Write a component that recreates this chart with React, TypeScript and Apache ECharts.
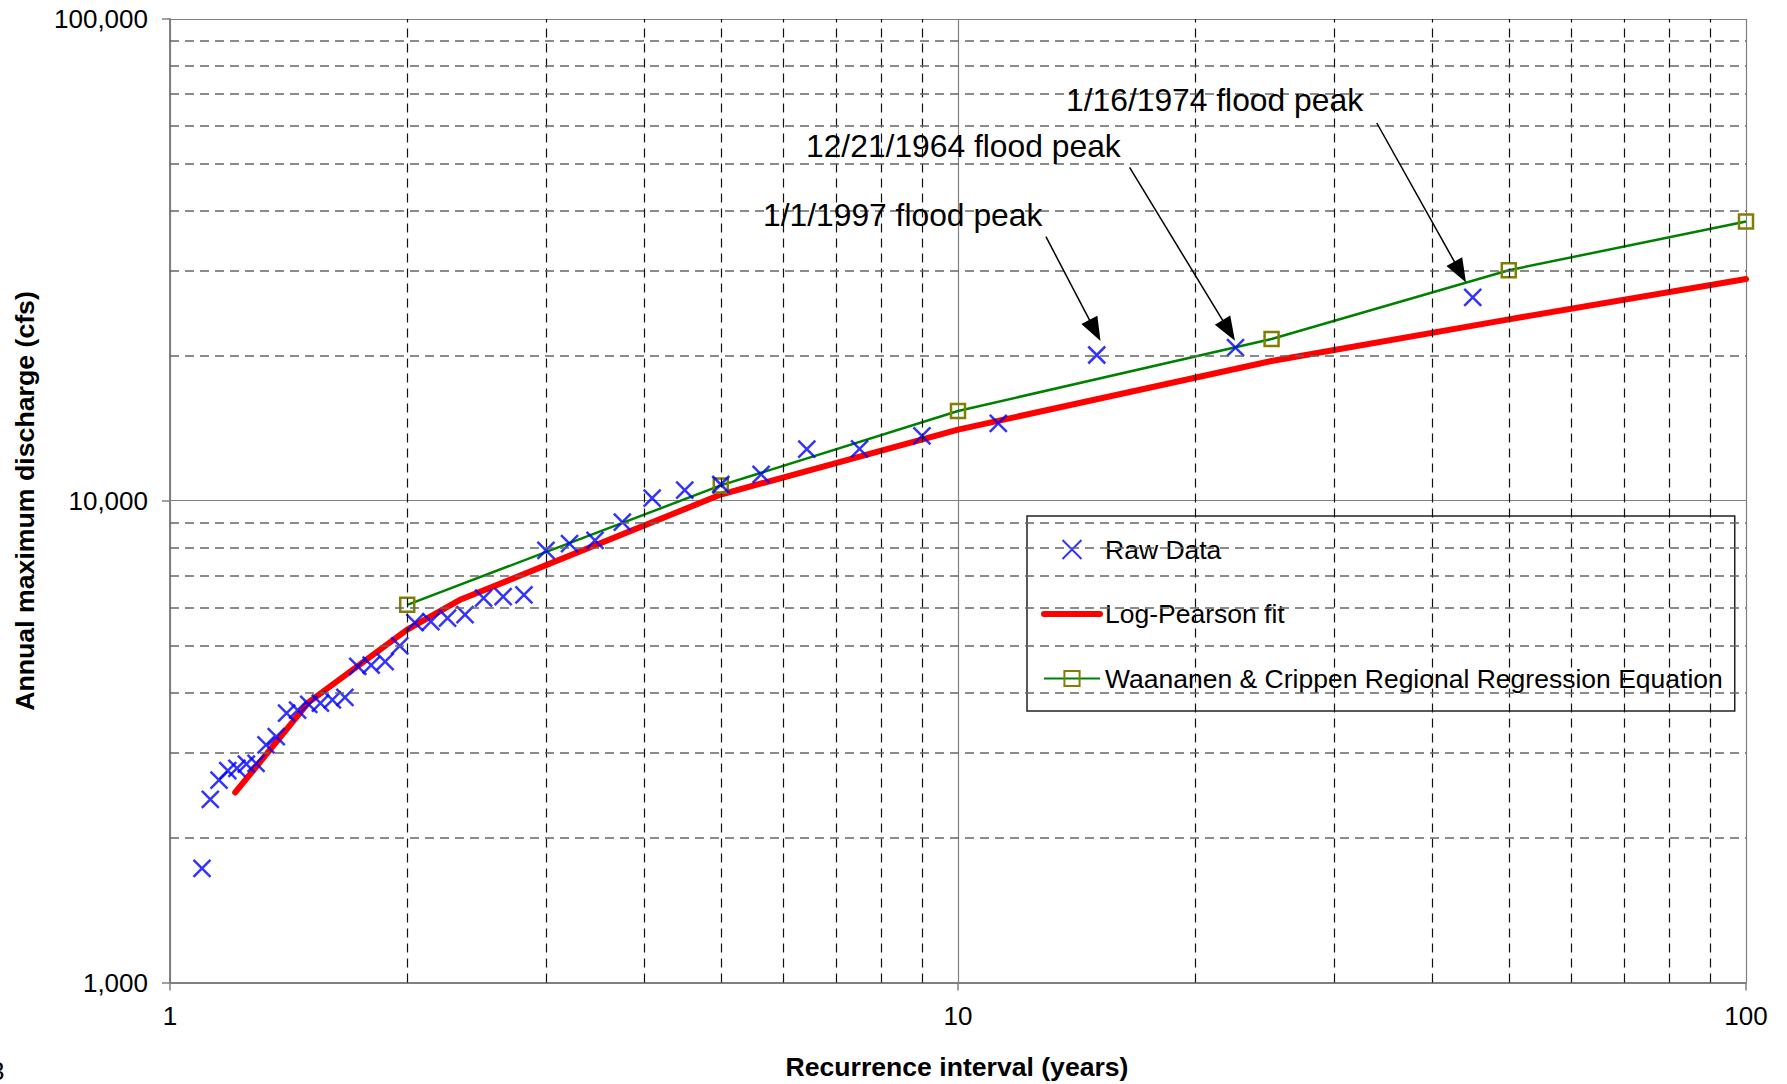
import React, { useEffect, useRef } from "react";
import * as echarts from "echarts";

const FONT = "'Liberation Sans', Arial, Helvetica, sans-serif";

// Raw annual peaks: recurrence interval (years) and discharge (cfs)
const rawInterval = [
  1.098, 1.125, 1.154, 1.184, 1.216, 1.25, 1.286, 1.324, 1.364, 1.406, 1.452,
  1.5, 1.552, 1.607, 1.667, 1.731, 1.8, 1.875, 1.957, 2.045, 2.143, 2.25,
  2.368, 2.5, 2.647, 2.813, 3.0, 3.214, 3.462, 3.75, 4.091, 4.5, 5.0, 5.625,
  6.429, 7.5, 9.0, 11.25, 15.0, 22.5, 45.0,
];
const rawDischarge = [
  1726, 2399, 2631, 2753, 2784, 2840, 2850, 3112, 3237, 3622, 3678, 3780,
  3800, 3859, 3908, 4530, 4560, 4634, 5000, 5585, 5613, 5706, 5805, 6280,
  6327, 6378, 7891, 8148, 8278, 9027, 10122, 10521, 10808, 11343, 12800,
  12820, 13630, 14480, 20070, 20780, 26440,
];

// Log-Pearson fit
const lpInterval = [1.21, 1.5, 2, 2.33, 5, 10, 25, 50, 100];
const lpDischarge = [2480, 3820, 5400, 6220, 10300, 14050, 19500, 23800, 28860];

// Waananen & Crippen regional regression
const wcInterval = [2, 5, 10, 25, 50, 100];
const wcDischarge = [6080, 10760, 15360, 21670, 30100, 38000];

// Minor grid values
const minorX = [2, 3, 4, 5, 6, 7, 8, 9, 20, 30, 40, 50, 60, 70, 80, 90];
const minorY = [
  2000, 3000, 4000, 5000, 6000, 7000, 8000, 9000, 20000, 30000, 40000, 50000,
  60000, 70000, 80000, 90000,
];

// Annotations (data coordinates of arrow start and arrow head)
const peakLabels = ["1/1/1997 flood peak", "12/21/1964 flood peak", "1/16/1974 flood peak"];
const arrowFrom = [
  [12.93, 35330],
  [16.51, 49230],
  [34.0, 60830],
];
const arrowTo = [
  [14.92, 22570],
  [22.06, 22570],
  [43.38, 29840],
];

const seriesNames = [
  "Raw Data",
  "Log-Pearson fit",
  "Waananen & Crippen Regional Regression Equation",
];

export default function App() {
  const ref = useRef<HTMLDivElement>(null);

  useEffect(() => {
    if (!ref.current) return;
    const chart = echarts.init(ref.current, undefined, { renderer: "svg" });

    const labelPos = [
      [763, 215],
      [806, 146],
      [1066, 100],
    ];

    const option: any = {
      animation: false,
      backgroundColor: "#ffffff",
      grid: { left: 170, right: 41, top: 19, bottom: 101.5, show: false },
      xAxis: {
        type: "log",
        logBase: 10,
        min: 1,
        max: 100,
        axisLine: { show: true, onZero: false, lineStyle: { color: "#808080", width: 2 } },
        axisTick: { show: true, length: 8, lineStyle: { color: "#808080", width: 1.5 } },
        axisLabel: { fontSize: 26, fontFamily: FONT, color: "#000", margin: 20 },
        splitLine: { show: true, lineStyle: { color: "#808080", width: 1.2 } },
      },
      yAxis: {
        type: "log",
        logBase: 10,
        min: 1000,
        max: 100000,
        axisLine: { show: true, onZero: false, lineStyle: { color: "#808080", width: 2 } },
        axisTick: { show: true, length: 8, lineStyle: { color: "#808080", width: 1.5 } },
        axisLabel: {
          fontSize: 26,
          fontFamily: FONT,
          color: "#000",
          margin: 22,
          formatter: (v: number) => Math.round(v).toLocaleString("en-US"),
        },
        splitLine: { show: true, lineStyle: { color: "#808080", width: 1.2 } },
      },
      legend: {
        show: true,
        orient: "vertical",
        left: 1027,
        top: 516,
        itemWidth: 56,
        itemHeight: 19,
        itemGap: 37.5,
        padding: [20, 12, 19, 14],
        backgroundColor: "#ffffff",
        borderColor: "#222",
        borderWidth: 1.5,
        borderRadius: 0,
        textStyle: { fontSize: 26.5, fontFamily: FONT, color: "#000" },
        data: [
          seriesNames[0],
          {
            name: seriesNames[1],
            itemStyle: { color: "rgba(0,0,0,0)", borderWidth: 0, opacity: 0 },
            lineStyle: { color: "#ff0000", width: 6, opacity: 1 },
          },
          seriesNames[2],
        ],
      },
      series: [
        {
          name: "__grid",
          type: "line",
          data: [],
          z: 1,
          silent: true,
          markLine: {
            silent: true,
            symbol: ["none", "none"],
            label: { show: false },
            emphasis: { disabled: true },
            animation: false,
            data: [
              ...minorX.map((v) => ({
                xAxis: v,
                lineStyle: { color: "#111", type: [9, 6], width: 1.2 },
              })),
              ...minorY.map((v) => ({
                yAxis: v,
                lineStyle: { color: "#666", type: [9, 6], width: 1.5 },
              })),
            ],
          },
        },
        {
          name: seriesNames[1],
          type: "line",
          z: 3,
          data: lpInterval.map((x, i) => [x, lpDischarge[i]]),
          showSymbol: false,
          symbol: "none",
          lineStyle: { color: "#ff0000", width: 6, cap: "round", join: "round" },
          itemStyle: { color: "#ff0000" },
        },
        {
          name: seriesNames[2],
          type: "line",
          z: 3,
          data: wcInterval.map((x, i) => [x, wcDischarge[i]]),
          showSymbol: true,
          symbol: "rect",
          symbolSize: 14,
          lineStyle: { color: "#008000", width: 2.5 },
          itemStyle: { color: "rgba(0,0,0,0)", borderColor: "#808000", borderWidth: 2.5 },
        },
        {
          name: seriesNames[0],
          type: "scatter",
          z: 4,
          data: rawInterval.map((x, i) => [x, rawDischarge[i]]),
          symbol: "path://M0 0L10 10M10 0L0 10",
          symbolSize: 17,
          itemStyle: { color: "rgba(0,0,0,0)", borderColor: "#0000ff", borderWidth: 2.5 },
        },
        {
          name: "__arrows",
          type: "line",
          data: [],
          z: 5,
          silent: true,
          markLine: {
            silent: true,
            symbol: ["none", "triangle"],
            symbolSize: [18, 24],
            label: { show: false },
            emphasis: { disabled: true },
            animation: false,
            lineStyle: { color: "#000", width: 1.5, type: "solid" },
            itemStyle: { color: "#000" },
            data: arrowFrom.map((f, i) => [{ coord: f }, { coord: arrowTo[i] }]),
          },
        },
      ],
      graphic: [
        {
          type: "text",
          x: 957,
          y: 1067,
          style: {
            text: "Recurrence interval (years)",
            fontSize: 26.6,
            fontWeight: "bold",
            fontFamily: FONT,
            fill: "#000",
            align: "center",
            verticalAlign: "middle",
          },
        },
        {
          type: "text",
          x: 25,
          y: 501,
          rotation: Math.PI / 2,
          style: {
            text: "Annual maximum discharge (cfs)",
            fontSize: 26.7,
            fontWeight: "bold",
            fontFamily: FONT,
            fill: "#000",
            align: "center",
            verticalAlign: "middle",
          },
        },
        ...peakLabels.map((t, i) => ({
          type: "text",
          x: labelPos[i][0],
          y: labelPos[i][1],
          z: 10,
          style: {
            text: t,
            fontSize: 31.8,
            fontFamily: FONT,
            fill: "#000",
            align: "left",
            verticalAlign: "middle",
          },
        })),
        {
          type: "text",
          x: -10,
          y: 1058,
          style: { text: "3", fontSize: 26, fontFamily: FONT, fill: "#000" },
        },
      ],
    };

    chart.setOption(option);
    return () => chart.dispose();
  }, []);

  return (
    <div
      ref={ref}
      style={{ position: "fixed", left: 0, top: 0, width: 1787, height: 1084 }}
    />
  );
}
